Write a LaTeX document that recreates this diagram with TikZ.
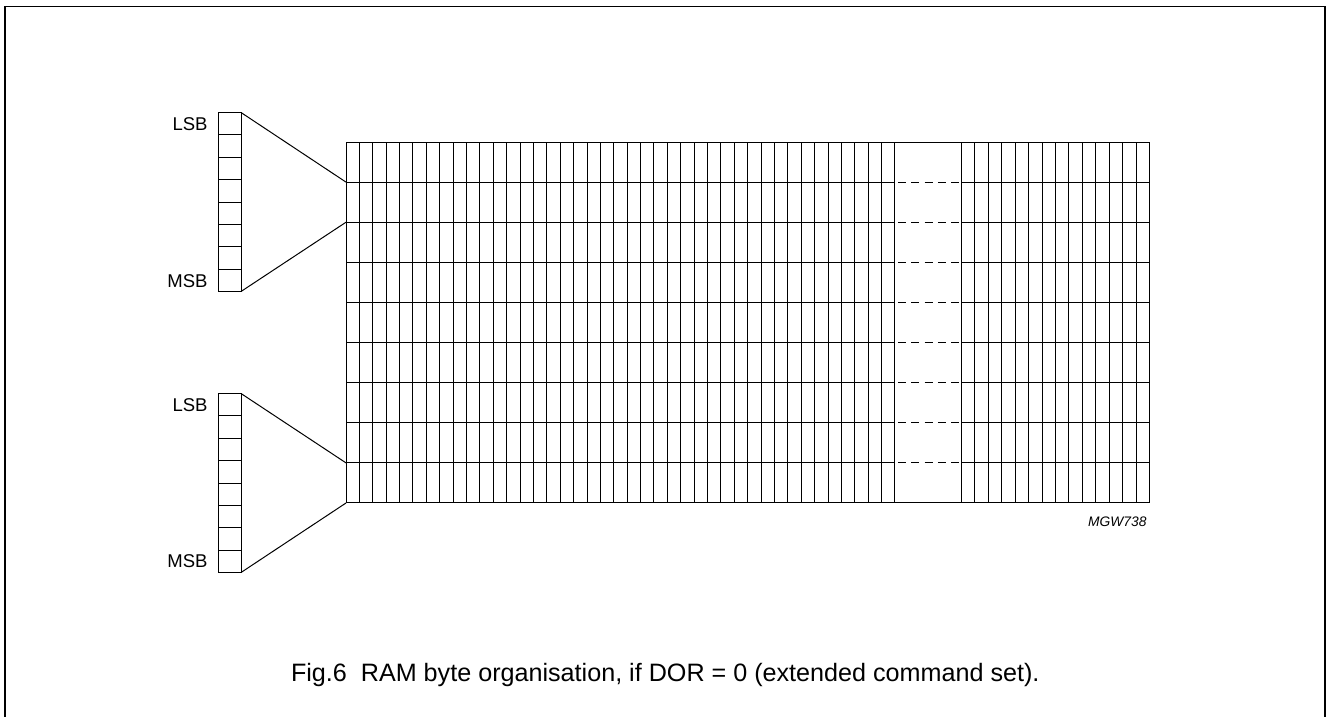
\documentclass[tikz,border=0pt]{standalone}
\usepackage{fontspec}
\setmainfont{Liberation Sans}
\begin{document}
\begin{tikzpicture}[x=1pt,y=-1pt,line width=1pt]
\tikzstyle{bitcell}=[draw, rectangle, inner sep=0pt, outer sep=0pt, minimum width=23pt, minimum height=22.375pt]
\tikzstyle{bitlabel}=[anchor=east, inner sep=0pt, font=\fontsize{18.5}{20}\selectfont]

\useasboundingbox (0,0) rectangle (1326,717);

% open frame, cut off at the bottom
\coordinate (F1) at (5,717);
\coordinate (F2) at (5,6.5);
\coordinate (F3) at (1325,6.5);
\coordinate (F4) at (1325,717);
\draw[line width=1.6pt] (F1) -- (F2) -- (F3) -- (F4);

% byte columns
\foreach \i in {1,...,8} {
  \node[bitcell] (A\i) at (229.5,{112.5+22.375*(\i-0.5)}) {};
  \node[bitcell] (B\i) at (229.5,{393.5+22.375*(\i-0.5)}) {};
}
\node[bitlabel] (lsbA) at (208,124.5) {LSB};
\node[bitlabel] (msbA) at (208,280.7) {MSB};
\node[bitlabel] (lsbB) at (208,405.5) {LSB};
\node[bitlabel] (msbB) at (208,561.5) {MSB};

% memory grid
\foreach \r in {0,...,9} {
  \coordinate (P\r) at (346,{142+40.11*\r});
  \coordinate (Q\r) at (895,{142+40.11*\r});
  \coordinate (R\r) at (961.5,{142+40.11*\r});
  \coordinate (S\r) at (1149.5,{142+40.11*\r});
  \draw (P\r) -- (Q\r);
  \draw (R\r) -- (S\r);
}
\draw (Q0) -- (R0);
\draw (Q9) -- (R9);
\foreach \r in {1,...,8} {
  \draw[dash pattern=on 8pt off 5.3pt, shorten >=2.5pt, shorten <=3pt] (Q\r) -- (R\r);
}
\foreach \c in {0,...,41} {
  \draw ({346+13.39*\c},142) -- ({346+13.39*\c},503);
}
\foreach \c in {0,...,14} {
  \draw ({961.5+13.43*\c},142) -- ({961.5+13.43*\c},503);
}

% byte to grid
\draw (A1.north east) -- (P1);
\draw (A8.south east) -- (P2);
\draw (B1.north east) -- (P8);
\draw (B8.south east) -- (P9);

\node[anchor=east, inner sep=0pt, font=\itshape\fontsize{13.8}{15}\selectfont] (code) at (1147,521.5) {MGW738};
\node[anchor=base west, inner sep=0pt, font=\fontsize{25.15}{28}\selectfont] (caption) at (290.5,681.7) {Fig.6\ \ RAM byte organisation, if DOR = 0 (extended command set).};
\end{tikzpicture}
\end{document}
